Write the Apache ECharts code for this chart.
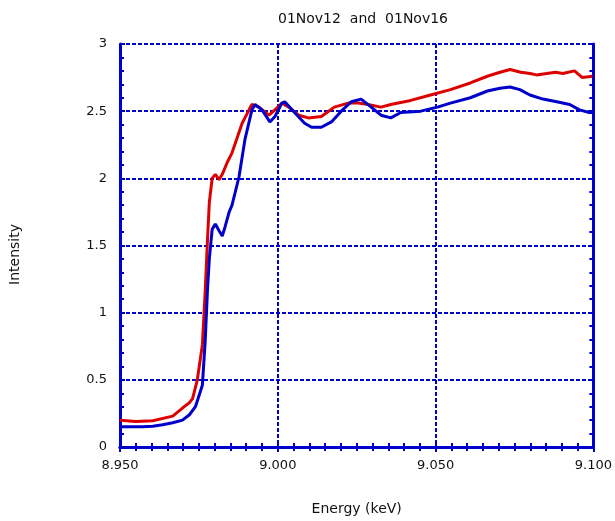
<!DOCTYPE html>
<html>
<head>
<meta charset="utf-8">
<script src="https://cdn.jsdelivr.net/npm/echarts@6/dist/echarts.min.js"></script>
<style>
  html, body { margin: 0; padding: 0; background: #fff; }
  #chart { width: 615px; height: 521px; }
</style>
</head>
<body>
<div id="chart"></div>
<script>
// 01Nov12 (red)
var redEnergy = [8.950, 8.955, 8.9604, 8.9667, 8.9698, 8.9720, 8.9730, 8.9745, 8.9761, 8.9770,
  8.9777, 8.9783, 8.9792, 8.9802, 8.9814, 8.9824, 8.9840, 8.9855, 8.9887, 8.9909,
  8.9918, 8.9940, 8.9972, 8.9991, 9.0013, 9.0035, 9.0066, 9.0097, 9.0138, 9.0179,
  9.0223, 9.0255, 9.0286, 9.0327, 9.0358, 9.0421, 9.0484, 9.0547, 9.0610, 9.0664,
  9.0704, 9.0736, 9.0770, 9.0799, 9.0820, 9.0852, 9.0880, 9.0903, 9.0940, 9.0965, 9.0997];
var redIntensity = [0.20, 0.19, 0.195, 0.23, 0.29, 0.33, 0.36, 0.50, 0.76, 1.16,
  1.53, 1.82, 2.00, 2.03, 1.99, 2.03, 2.12, 2.19, 2.41, 2.51,
  2.55, 2.53, 2.47, 2.51, 2.56, 2.53, 2.47, 2.45, 2.46, 2.53,
  2.56, 2.56, 2.55, 2.53, 2.55, 2.58, 2.62, 2.66, 2.71, 2.76,
  2.79, 2.81, 2.79, 2.78, 2.77, 2.78, 2.79, 2.78, 2.80, 2.75, 2.76];

// 01Nov16 (blue)
var blueEnergy = [8.950, 8.9572, 8.9604, 8.9635, 8.9667, 8.9698, 8.9720, 8.9739, 8.9761, 8.9770,
  8.9777, 8.9783, 8.9792, 8.9802, 8.9814, 8.9824, 8.9833, 8.9846, 8.9855, 8.9877,
  8.9896, 8.9918, 8.9928, 8.9950, 8.9975, 8.9991, 9.0013, 9.0022, 9.0053, 9.0085,
  9.0107, 9.0138, 9.0170, 9.0201, 9.0233, 9.0264, 9.0296, 9.0327, 9.0358, 9.0390,
  9.0453, 9.0506, 9.0547, 9.0610, 9.0664, 9.0704, 9.0736, 9.0767, 9.0799, 9.0840,
  9.0884, 9.0925, 9.0956, 9.0987, 9.1000];
var blueIntensity = [0.15, 0.15, 0.155, 0.165, 0.18, 0.20, 0.24, 0.30, 0.46, 0.79,
  1.16, 1.40, 1.62, 1.66, 1.61, 1.57, 1.64, 1.75, 1.80, 2.01,
  2.29, 2.51, 2.55, 2.51, 2.42, 2.46, 2.56, 2.57, 2.49, 2.41,
  2.38, 2.38, 2.42, 2.50, 2.57, 2.59, 2.53, 2.47, 2.45, 2.49,
  2.50, 2.53, 2.56, 2.60, 2.65, 2.67, 2.68, 2.66, 2.62, 2.59,
  2.57, 2.55, 2.51, 2.49, 2.49];

var axisBlue = '#0000cc';
var textColor = '#111';
var font = 'DejaVu Sans';

function pairs(xs, ys) {
    return xs.map(function (x, i) { return [x, ys[i]]; });
}

var myChart = echarts.init(document.getElementById('chart'));
var frameAxis = {
    axisLine: { show: true, lineStyle: { color: axisBlue, width: 3 } },
    axisTick: { show: true, inside: true, length: 5, lineStyle: { color: axisBlue, width: 2 } },
    minorTick: { show: true, length: 4, lineStyle: { color: axisBlue, width: 2 } }
};

myChart.setOption({
    backgroundColor: '#fff',
    animation: false,
    title: {
        text: '01Nov12  and  01Nov16',
        left: 358,
        top: 7,
        textAlign: 'center',
        textStyle: { color: textColor, fontFamily: font, fontSize: 14, fontWeight: 'normal' }
    },
    grid: { left: 117, right: 21, top: 44, bottom: 72 },
    xAxis: [{
        type: 'value',
        position: 'bottom',
        min: 8.95, max: 9.10, interval: 0.05,
        name: 'Energy (keV)',
        nameLocation: 'middle',
        nameGap: 55,
        nameTextStyle: { color: textColor, fontFamily: font, fontSize: 14 },
        axisLine: frameAxis.axisLine,
        axisTick: frameAxis.axisTick,
        minorTick: Object.assign({ splitNumber: 10 }, frameAxis.minorTick),
        axisLabel: {
            color: textColor, fontFamily: font, fontSize: 13, margin: 12,
            formatter: function (v) { return v.toFixed(3); }
        },
        splitLine: { show: true, lineStyle: { color: axisBlue, width: 2, type: [4, 2] } }
    }, {
        type: 'value',
        position: 'top',
        min: 8.95, max: 9.10, interval: 0.05,
        axisLine: frameAxis.axisLine,
        axisTick: frameAxis.axisTick,
        minorTick: Object.assign({ splitNumber: 10 }, frameAxis.minorTick),
        axisLabel: { show: false },
        splitLine: { show: false }
    }],
    yAxis: [{
        type: 'value',
        position: 'left',
        min: 0, max: 3, interval: 0.5,
        name: 'Intensity',
        nameLocation: 'middle',
        nameGap: 98,
        nameTextStyle: { color: textColor, fontFamily: font, fontSize: 14, padding: [0, 0, 0, -18] },
        axisLine: frameAxis.axisLine,
        axisTick: frameAxis.axisTick,
        minorTick: Object.assign({ splitNumber: 5 }, frameAxis.minorTick),
        axisLabel: { color: textColor, fontFamily: font, fontSize: 13, margin: 13 },
        splitLine: { show: true, lineStyle: { color: axisBlue, width: 2, type: [4, 2] } }
    }, {
        type: 'value',
        position: 'right',
        min: 0, max: 3, interval: 0.5,
        axisLine: frameAxis.axisLine,
        axisTick: frameAxis.axisTick,
        minorTick: Object.assign({ splitNumber: 5 }, frameAxis.minorTick),
        axisLabel: { show: false },
        splitLine: { show: false }
    }],
    series: [
        {
            name: '01Nov12',
            type: 'line',
            showSymbol: false,
            data: pairs(redEnergy, redIntensity),
            lineStyle: { color: '#dd0000', width: 3 },
            z: 3
        },
        {
            name: '01Nov16',
            type: 'line',
            showSymbol: false,
            data: pairs(blueEnergy, blueIntensity),
            lineStyle: { color: '#0000cc', width: 3 },
            z: 4
        }
    ]
});
</script>
</body>
</html>
